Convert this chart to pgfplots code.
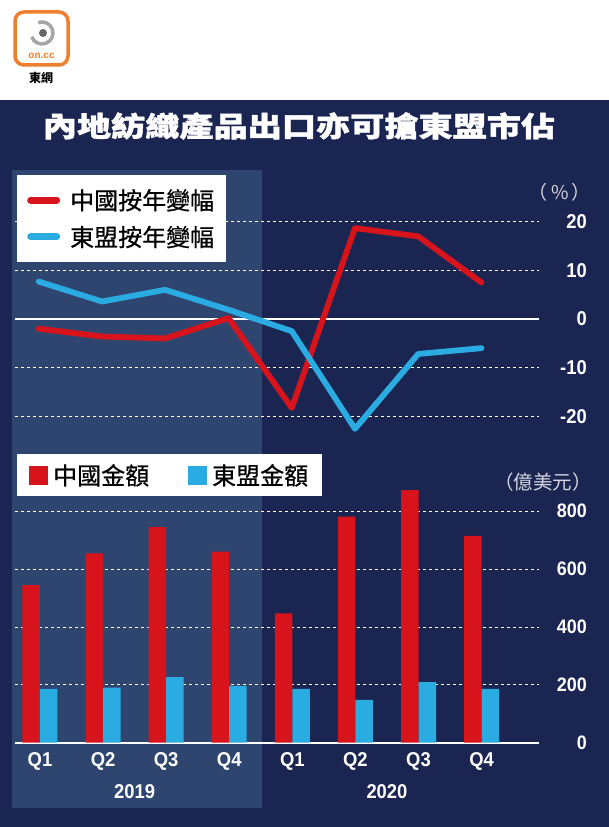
\documentclass[border=0pt]{standalone}
\usepackage{fontspec}
\usepackage{pgfplots}
\pgfplotsset{compat=1.18}
\setmainfont{Liberation Sans}
\newfontfamily\cjk{Noto Sans CJK TC}
\newfontfamily\cjkm[FakeBold=0.6]{Noto Sans CJK TC}
\newfontfamily\cjkt[FakeBold=1.2]{Noto Sans CJK TC}
\newfontfamily\cond[FakeStretch=0.92]{Liberation Sans}
\definecolor{navy}{HTML}{1B2551}
\definecolor{band}{HTML}{2E4570}
\definecolor{cred}{HTML}{D7141C}
\definecolor{cblue}{HTML}{2AABE2}
\definecolor{logoorange}{HTML}{EE7F2D}
\definecolor{unitgray}{HTML}{D3D6DE}

\begin{document}
\begin{tikzpicture}[x=1pt,y=1pt]
\useasboundingbox (0pt,0pt) rectangle (609pt,827pt);
\fill[white] (0pt,0pt) rectangle (609pt,827pt);
\fill[navy] (0pt,0pt) rectangle (609pt,727pt);
\fill[band] (12pt,19pt) rectangle (262pt,657pt);
% logo
\draw[logoorange, line width=3.5pt, rounded corners=9pt] (15pt,762pt) rectangle (68pt,815pt);
\draw[gray!70, line width=3.5pt] (42pt,794pt) ++(200:11pt) arc (200:470:11pt);
\fill[gray!80!black] (43pt,794pt) circle (4pt);
\node[logoorange, font=\bfseries\fontsize{10}{10}\selectfont] at (41.5pt,771pt) {on.cc};
\node[black, font=\cjk\bfseries\fontsize{12}{12}\selectfont] at (41pt,749pt) {東網};
% title
\node[white, font=\cjkt\bfseries\fontsize{28}{28}\selectfont, xscale=1.22] at (299pt,701pt) {內地紡織產品出口亦可搶東盟市佔};
% units
\node[anchor=east, text=unitgray, font=\cjk\fontsize{19}{19}\selectfont, inner sep=0pt] at (591pt,635pt) {（\,\%\,）};
\node[anchor=east, text=unitgray, font=\cjk\fontsize{19.5}{19.5}\selectfont, inner sep=0pt] at (592pt,345pt) {（億美元）};

% ---------- line chart ----------
\begin{axis}[at={(15pt,386.5pt)}, anchor=south west, scale only axis,
  width=524pt, height=243pt,
  xmin=-0.376, xmax=7.91, ymin=-25, ymax=25, clip=false,
  axis line style={draw=none}, major tick length=0pt, xtick=\empty,
  ytick={-20,-10,10,20}, yticklabels={-20,-10,10,20},
  extra y ticks={0}, extra y tick labels={0},
  extra y tick style={grid style={white, solid, line width=1.6pt}},
  ymajorgrids, grid style={white, line width=0.9pt, dash pattern=on 3pt off 3pt},
  yticklabel pos=right,
  yticklabel style={anchor=east, xshift=48pt, inner sep=0pt, text=white,
    font=\cond\bfseries\fontsize{20}{20}\selectfont},
  legend style={at={(0.0038,1.0926)}, anchor=north west, fill=white, draw=none,
    inner xsep=10pt, inner ysep=12pt, row sep=11pt,
    /tikz/every odd column/.append style={column sep=8pt},
    font=\cjkm\fontsize{24}{24}\selectfont, text=black},
  legend cell align=left,
  legend image code/.code={\draw[#1, line width=7pt, line cap=round] (0pt,0pt) -- (26pt,0pt);},
]
\addplot[cred, line width=5.8pt, line join=round, line cap=round]
  coordinates {(0,-2.0) (1,-3.6) (2,-4.0) (3,0.2) (4,-18.3) (5,18.7) (6,17.0) (7,7.5)};
\addlegendentry{中國按年變幅}
\addplot[cblue, line width=5.8pt, line join=round, line cap=round]
  coordinates {(0,7.7) (1,3.6) (2,6.0) (3,1.9) (4,-2.5) (5,-22.6) (6,-7.2) (7,-6.0)};
\addlegendentry{東盟按年變幅}
\end{axis}

% ---------- bar chart ----------
\begin{axis}[at={(15pt,84.3pt)}, anchor=south west, scale only axis,
  width=524pt, height=260.4pt,
  xmin=-0.396, xmax=7.91, ymin=0, ymax=900, clip=false,
  axis line style={draw=none}, major tick length=0pt,
  ybar, bar width=17.5pt,
  xtick={0,...,7}, xticklabels={Q1,Q2,Q3,Q4,Q1,Q2,Q3,Q4},
  xticklabel style={anchor=north, yshift=-10pt, inner sep=0pt, text=white,
    font=\cond\bfseries\fontsize{20}{20}\selectfont},
  ytick={200,400,600,800}, yticklabels={200,400,600,800},
  extra y ticks={0}, extra y tick labels={0},
  extra y tick style={grid style={white, solid, line width=1.8pt}},
  ymajorgrids, grid style={white, line width=0.9pt, dash pattern=on 3pt off 3pt},
  yticklabel pos=right,
  yticklabel style={anchor=east, xshift=48pt, inner sep=0pt, text=white,
    font=\cond\bfseries\fontsize{19.5}{19.5}\selectfont},
  legend columns=2,
  legend style={at={(0.0038,1.1087)}, anchor=north west, fill=white, draw=none,
    inner xsep=12pt, inner ysep=8pt,
    /tikz/every odd column/.append style={column sep=3pt},
    /tikz/every even column/.append style={column sep=37pt},
    font=\cjkm\fontsize{24}{24}\selectfont, text=black},
  legend image code/.code={\fill[#1] (0pt,-9.5pt) rectangle (19pt,9.5pt);},
]
\addplot[fill=cred, draw=none, bar shift=-8.75pt]
  coordinates {(0,545) (1,654) (2,745) (3,660) (4,447) (5,781) (6,873) (7,715)};
\addlegendentry{中國金額}
\addplot[fill=cblue, draw=none, bar shift=8.75pt]
  coordinates {(0,186) (1,190) (2,227) (3,196) (4,186) (5,148) (6,209) (7,186)};
\addlegendentry{東盟金額}
\node[white, font=\cond\bfseries\fontsize{20}{20}\selectfont] at (axis cs:1.5,0) [yshift=-49.3pt] {2019};
\node[white, font=\cond\bfseries\fontsize{20}{20}\selectfont] at (axis cs:5.5,0) [yshift=-49.3pt] {2020};
\end{axis}
\end{tikzpicture}
\end{document}
